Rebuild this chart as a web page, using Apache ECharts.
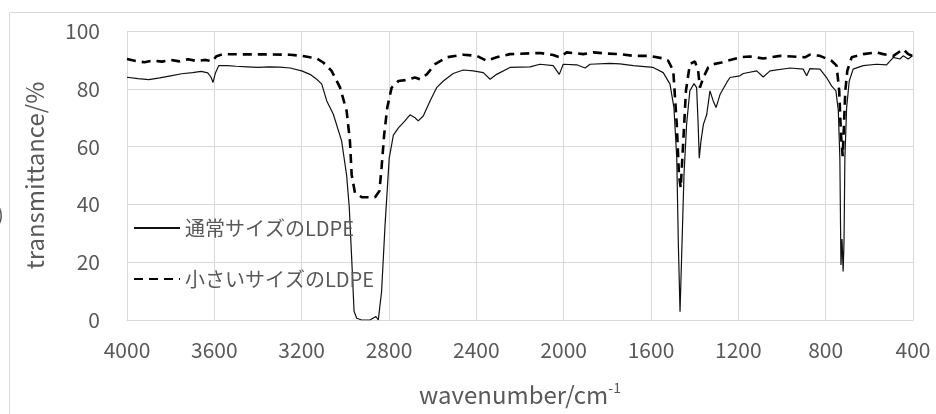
<!DOCTYPE html>
<html>
<head>
<meta charset="utf-8">
<script src="https://cdn.jsdelivr.net/npm/echarts@6/dist/echarts.min.js"></script>
<style>
  html, body { margin: 0; padding: 0; background: #fff; }
  #chart { width: 936px; height: 414px; }
</style>
</head>
<body>
<div id="chart"></div>
<script>
// 通常サイズのLDPE (solid)
const normalWn = [4000, 3950, 3900, 3850, 3800, 3750, 3700, 3660, 3630, 3615, 3606, 3595, 3580, 3540, 3500, 3450, 3400, 3350, 3300, 3253, 3200, 3162, 3131, 3108, 3085, 3055, 3017, 2994, 2982, 2971, 2960, 2948, 2925, 2887, 2860, 2849, 2834, 2818, 2799, 2780, 2757, 2727, 2704, 2681, 2666, 2643, 2612, 2582, 2551, 2506, 2460, 2414, 2368, 2337, 2307, 2246, 2154, 2108, 2048, 2020, 2002, 1940, 1902, 1879, 1788, 1742, 1681, 1590, 1544, 1513, 1495, 1482, 1475, 1467, 1460, 1449, 1437, 1422, 1403, 1391, 1384, 1379, 1371, 1360, 1345, 1330, 1315, 1302, 1284, 1253, 1238, 1193, 1177, 1116, 1086, 1055, 963, 903, 887, 872, 826, 796, 773, 753, 742, 735, 730, 725, 720, 716, 712, 704, 692, 674, 628, 567, 521, 490, 460, 445, 422, 402]
const normalT = [84, 83.5, 83.2, 83.8, 84.5, 85.2, 85.6, 86, 85.5, 84, 82.2, 85.5, 88, 88, 87.8, 87.6, 87.4, 87.6, 87.5, 87.2, 86.2, 85, 83.3, 81.6, 75.8, 71.2, 62, 50, 39, 21.5, 3, 0.6, 0, 0, 1.2, 0, 9.8, 33, 56, 64, 66.5, 68.9, 71, 70, 68.9, 70.6, 75.8, 80.4, 82.7, 85.3, 86.5, 86.2, 85.6, 83.3, 85, 87.4, 87.6, 88.5, 88, 85, 88.5, 88.3, 87.2, 88.5, 88.8, 88.6, 88, 87.4, 85.6, 81.6, 73.5, 56, 27, 2.9, 21, 50, 67.7, 79.3, 81.8, 80.4, 67.7, 56, 62, 67.7, 71, 79.3, 75.8, 73.5, 78, 82.2, 83.9, 84.5, 85.3, 86.2, 84.1, 86.2, 87.2, 86.8, 84.5, 87, 86.8, 83.9, 81, 79.3, 72.3, 56, 19, 28, 16.8, 27, 56, 73.5, 82.7, 86.8, 88, 88.5, 88.3, 90.9, 90.3, 91.4, 90.3, 91.4]

// 小さいサイズのLDPE (dashed)
const smallWn = [4000, 3960, 3920, 3880, 3840, 3800, 3760, 3720, 3680, 3640, 3610, 3590, 3560, 3450, 3350, 3253, 3200, 3162, 3131, 3101, 3063, 3024, 2994, 2979, 2971, 2956, 2925, 2864, 2844, 2834, 2822, 2808, 2788, 2757, 2727, 2681, 2658, 2627, 2589, 2536, 2460, 2398, 2353, 2307, 2246, 2108, 2048, 2020, 1986, 1910, 1864, 1803, 1742, 1681, 1605, 1551, 1521, 1498, 1482, 1472, 1464, 1452, 1440, 1422, 1399, 1384, 1376, 1360, 1338, 1315, 1277, 1193, 1147, 1086, 1009, 895, 872, 826, 773, 750, 738, 730, 722, 716, 710, 701, 681, 628, 567, 536, 490, 445, 422, 402]
const smallT = [90.3, 89.6, 89.2, 89.8, 89.4, 90, 89.5, 90.2, 89.6, 90, 89.5, 91.3, 92, 91.9, 91.9, 91.8, 91.4, 90.9, 90.5, 89.1, 86.2, 80.4, 72.3, 62, 50.3, 44, 42.5, 42.5, 44.6, 52.7, 64.2, 73.5, 80.4, 82.7, 83, 83.9, 83.3, 85, 88.5, 90.9, 91.8, 91.4, 89.7, 90.9, 92, 92.4, 91.7, 90.9, 92.6, 92, 92.6, 92.2, 92, 91.4, 91.4, 90.6, 89.7, 86.2, 67.7, 50.3, 45.7, 62, 79.3, 88.5, 89.5, 86.2, 80.4, 83.9, 87.4, 88.5, 89.1, 90.9, 91.2, 90.5, 91.4, 90.9, 91.8, 91.4, 89.7, 88, 79.3, 64.2, 56.7, 67.7, 79.3, 86.2, 90.9, 92, 92.6, 92, 91.4, 93.7, 92, 91.4]

const seriesNames = ['通常サイズのLDPE', '小さいサイズのLDPE']

const pairs = (xs, ys) => xs.map((x, i) => [x, ys[i]])

const chart = echarts.init(document.getElementById('chart'))
const textColor = '#595959'
const font = 'Noto Sans CJK JP'

chart.setOption({
  animation: false,
  backgroundColor: '#fff',
  grid: {
    left: 127,
    right: 23,
    top: 31,
    bottom: 94,
  },
  graphic: [
    {
      type: 'rect',
      shape: { x: 9.5, y: 12.5, width: 1000, height: 600 },
      style: { fill: 'none', stroke: '#d9d9d9', lineWidth: 1 },
      silent: true,
    },
    {
      type: 'text',
      left: -3,
      top: 204,
      style: { text: ')', fontSize: 20, fill: textColor, fontFamily: font },
    },
  ],
  legend: {
    orient: 'vertical',
    left: 128,
    top: 213,
    itemGap: 31,
    itemWidth: 46,
    itemHeight: 14,
    data: seriesNames,
    itemStyle: { opacity: 0 },
    textStyle: { color: textColor, fontSize: 20, fontFamily: font },
  },
  xAxis: {
    type: 'value',
    inverse: true,
    min: 400,
    max: 4000,
    interval: 400,
    name: 'wavenumber/cm{sup|-1}',
    nameLocation: 'middle',
    nameGap: 61,
    nameTextStyle: {
      color: textColor,
      fontSize: 24,
      fontFamily: font,
      rich: {
        sup: { fontSize: 14, fontFamily: font, color: textColor, padding: [0, 0, 14, 0] },
      },
    },
    axisLine: { show: true, lineStyle: { color: '#d9d9d9' } },
    axisTick: { show: false },
    axisLabel: {
      color: textColor,
      fontSize: 21,
      fontFamily: font,
      margin: 20,
      formatter: (v) => String(v),
    },
    splitLine: { show: true, lineStyle: { color: '#d9d9d9' } },
  },
  yAxis: {
    type: 'value',
    min: 0,
    max: 100,
    interval: 20,
    name: 'transmittance/%',
    nameLocation: 'middle',
    nameGap: 80,
    nameTextStyle: { color: textColor, fontSize: 24, fontFamily: font },
    axisLine: { show: false },
    axisTick: { show: false },
    axisLabel: { color: textColor, fontSize: 21, fontFamily: font, margin: 27 },
    splitLine: { show: true, lineStyle: { color: '#d9d9d9' } },
  },
  series: [
    {
      name: seriesNames[0],
      type: 'line',
      symbol: 'none',
      data: pairs(normalWn, normalT),
      lineStyle: { color: '#111', width: 1.2 },
      itemStyle: { color: '#111' },
    },
    {
      name: seriesNames[1],
      type: 'line',
      symbol: 'none',
      data: pairs(smallWn, smallT),
      lineStyle: { color: '#000', width: 2.6, type: [9, 6] },
      itemStyle: { color: '#000' },
    },
  ],
})
</script>
</body>
</html>
